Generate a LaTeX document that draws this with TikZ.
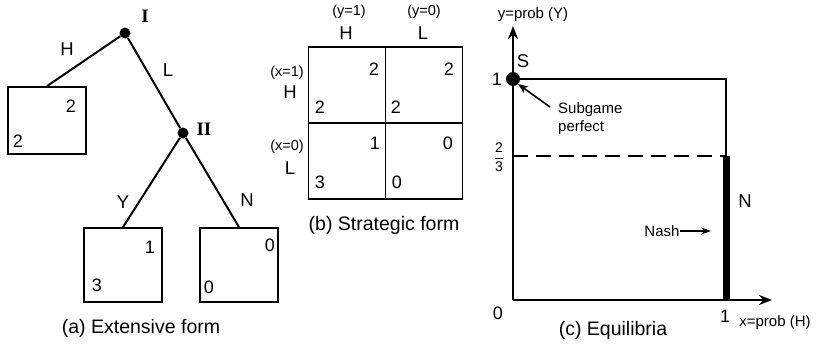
\documentclass[tikz,border=0pt]{standalone}
\usepackage{fontspec}
\setmainfont{Liberation Sans}
\newfontfamily\romfont{Liberation Serif}
\usetikzlibrary{arrows.meta}
\begin{document}
\begin{tikzpicture}[x=1pt,y=-1pt,
  edge/.style={line width=2pt},
  thinline/.style={line width=1.6pt},
  dotnode/.style={circle,fill=black,inner sep=0pt,minimum size=11pt},
  payoffbox/.style={draw,line width=1.8pt,minimum width=78pt,inner sep=0pt},
  cell/.style={draw,line width=1.8pt,minimum width=77pt,minimum height=76pt,inner sep=0pt},
  num/.style={font=\fontsize{18}{18}\selectfont,inner sep=0pt},
  lab/.style={font=\fontsize{18.5}{18.5}\selectfont,inner sep=0pt},
  smalltxt/.style={font=\fontsize{14.5}{14.5}\selectfont,inner sep=0pt},
  midtxt/.style={font=\fontsize{15}{18}\selectfont,inner sep=0pt},
  captxt/.style={font=\fontsize{19.5}{19.5}\selectfont,inner sep=0pt},
  player/.style={font=\romfont\bfseries\fontsize{19}{19}\selectfont,inner sep=0pt},
  axis/.style={line width=1.8pt,-{Stealth[length=13pt,width=10pt]}}
]
\useasboundingbox (0,0) rectangle (817,348);
% ---------- (a) extensive form ----------
\node[dotnode] (root) at (125,33) {};
\node[dotnode] (two) at (183,133) {};
\node[payoffbox,minimum height=67pt] (bH) at (47,120.5) {};
\node[payoffbox,minimum height=74pt] (bY) at (123,265) {};
\node[payoffbox,minimum height=74pt] (bN) at (239,265) {};
\draw[edge] (root) -- (bH.north);
\draw[edge] (root) -- (two);
\draw[edge] (two) -- (bY.north);
\draw[edge] (two) -- (bN.north);
\node[player] (pI) at (145,16) {I};
\node[player] (pII) at (204,129) {II};
\node[lab] (lH) at (67,49) {H};
\node[lab] (lL) at (168,70) {L};
\node[lab] (lY) at (123,202) {Y};
\node[lab] (lN) at (247,200) {N};
\node[num] (h2a) at (71,106) {2};
\node[num] (h2b) at (18,141) {2};
\node[num] (y1) at (150,247) {1};
\node[num] (y3) at (97,285) {3};
\node[num] (n0a) at (270,245) {0};
\node[num] (n0b) at (209,287) {0};
\node[captxt] (capa) at (141,328) {(a) Extensive form};
% ---------- (b) strategic form ----------
\node[cell] (c11) at (347,85) {};
\node[cell] (c12) at (424,85) {};
\node[cell] (c21) at (347,161) {};
\node[cell] (c22) at (424,161) {};
\node[smalltxt] (cy1) at (349,12) {(y=1)};
\node[lab] (cH) at (346,33) {H};
\node[smalltxt] (cy0) at (424,12) {(y=0)};
\node[lab] (cL) at (423,33) {L};
\node[smalltxt] (rx1) at (287,73) {(x=1)};
\node[lab] (rH) at (290,92) {H};
\node[smalltxt] (rx0) at (287,147) {(x=0)};
\node[lab] (rL) at (290,168) {L};
\node[num] (n11a) at (374,69) {2};
\node[num] (n11b) at (320,107) {2};
\node[num] (n12a) at (449,69) {2};
\node[num] (n12b) at (396,107) {2};
\node[num] (n21a) at (375,143) {1};
\node[num] (n21b) at (320,182) {3};
\node[num] (n22a) at (448,143) {0};
\node[num] (n22b) at (397,182) {0};
\node[captxt] (capb) at (384,225) {(b) Strategic form};
% ---------- (c) equilibria ----------
\coordinate (O) at (513,300);
\coordinate (ytip) at (513,26);
\coordinate (xtip) at (772,300);
\coordinate (S) at (513,79);
\coordinate (TR) at (726,79);
\coordinate (Q) at (726,156);
\coordinate (Qy) at (513,156);
\coordinate (B) at (726,300);
\draw[axis] (O) -- (ytip);
\draw[axis] (O) -- (xtip);
\draw[thinline] (S) -- (TR) -- (Q);
\draw[thinline,dash pattern=on 15pt off 8pt] (Qy) -- (Q);
\draw[line width=7pt] (Q) -- (B);
\node[dotnode,minimum size=14pt] (sdot) at (S) {};
\node[midtxt] (ylab) at (533,15) {y=prob (Y)};
\node[lab] (Slab) at (523,61) {S};
\node[num] (one) at (497,79) {1};
\node[font=\fontsize{14}{14}\selectfont,inner sep=0pt] (twothirds) at (499,157) {$\displaystyle\frac{\mbox{2}}{\mbox{3}}$};
\node[num] (zero) at (498,313) {0};
\node[num] (onex) at (725,316) {1};
\node[midtxt] (xlab) at (775,323) {x=prob (H)};
\node[lab] (Nlab) at (745,201) {N};
\node[midtxt,align=left,anchor=west] (sp) at (558,119) {Subgame\\perfect};
\coordinate (sptail) at (550,107);
\draw[thinline,-{Stealth[length=10pt,width=8pt]}] (sptail) -- (sdot.south east);
\node[midtxt] (nash) at (662,231) {Nash};
\coordinate (nashtip) at (711,231);
\draw[line width=1.2pt,-{Stealth[length=10pt,width=7pt]}] (nash.east) -- (nashtip);
\node[captxt] (capc) at (613,330) {(c) Equilibria};
\end{tikzpicture}
\end{document}
